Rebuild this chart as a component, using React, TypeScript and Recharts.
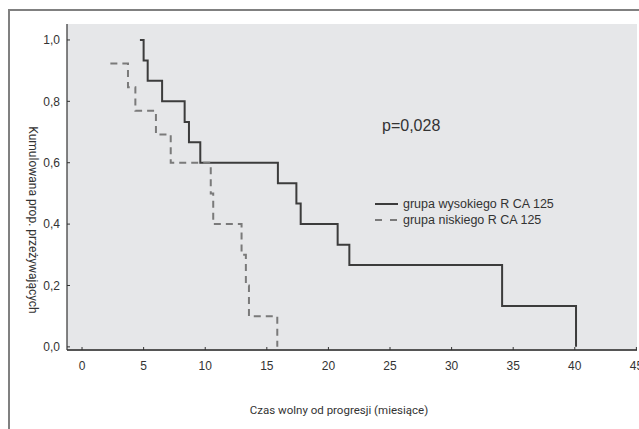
import React from 'react';
import { LineChart, Line, XAxis, YAxis, CartesianGrid, Legend } from 'recharts';

// Kaplan-Meier steps
const highTime = [4.7, 5.0, 5.33, 6.5, 8.33, 8.68, 9.6, 15.9, 17.4, 17.75, 20.75, 21.7, 34.1, 40.1];
const highSurv = [1.0, 0.933, 0.867, 0.8, 0.733, 0.667, 0.6, 0.533, 0.467, 0.4, 0.333, 0.267, 0.133, 0.0];

const lowTime = [2.3, 3.73, 4.33, 6.0, 7.2, 10.45, 10.65, 12.95, 13.3, 13.55, 15.85];
const lowSurv = [0.923, 0.846, 0.769, 0.692, 0.6, 0.5, 0.4, 0.3, 0.2, 0.1, 0.0];

const xTicks = [0, 5, 10, 15, 20, 25, 30, 35, 40, 45];
const yTicks = [0, 0.2, 0.4, 0.6, 0.8, 1.0];
const rightTicks = [0, 1, 2, 3, 4, 5, 6];

const seriesNames = ['grupa wysokiego R CA 125', 'grupa niskiego R CA 125'];

const highData = highTime.map((t, i) => ({ t, s: highSurv[i] }));
const lowData = lowTime.map((t, i) => ({ t, s: lowSurv[i] }));

const tickFont = { fontFamily: '"Liberation Sans", Arial, sans-serif', fontSize: 12, fill: '#333' };

const LegendBox = () => (
    <div style={{ fontFamily: '"Liberation Sans", Arial, sans-serif', fontSize: 12.5, color: '#333', lineHeight: '16px' }}>
        {seriesNames.map((name, i) => (
            <div key={name} style={{ display: 'flex', alignItems: 'center', whiteSpace: 'nowrap' }}>
                <svg width={28} height={16}>
                    <line
                        x1={0}
                        x2={23}
                        y1={8}
                        y2={8}
                        stroke={i === 0 ? '#3c3c3c' : '#7a7a7a'}
                        strokeWidth={2}
                        strokeDasharray={i === 0 ? undefined : '7 8'}
                    />
                </svg>
                <span>{name}</span>
            </div>
        ))}
    </div>
);

const App = () => {
    return (
        <div style={{ position: 'absolute', left: 0, top: 0, width: 639, height: 429, background: '#fff', overflow: 'hidden' }}>
            {/* outer frame */}
            <div style={{ position: 'absolute', left: 8, top: 9, width: 700, height: 500, borderLeft: '2px solid #808080', borderTop: '2px solid #808080' }} />

            <div style={{ position: 'absolute', left: 0, top: 0 }}>
                <LineChart width={639} height={429} margin={{ top: 24, right: 2, left: 0, bottom: 0 }}>
                    <CartesianGrid fill="#e6e7e9" horizontal={false} vertical={false} />
                    <XAxis
                        xAxisId="bottom"
                        type="number"
                        dataKey="t"
                        domain={[-1.22, 45.05]}
                        ticks={xTicks}
                        interval={0}
                        height={47}
                        tickSize={-3}
                        tickMargin={14}
                        tick={tickFont}
                        axisLine={{ stroke: '#555', strokeWidth: 2 }}
                        tickLine={{ stroke: '#333' }}
                        allowDataOverflow
                    />
                    <XAxis
                        xAxisId="top"
                        orientation="top"
                        type="number"
                        domain={[-1.22, 45.05]}
                        ticks={xTicks}
                        interval={0}
                        height={0}
                        tickSize={-3}
                        tick={false}
                        axisLine={{ stroke: '#333', strokeWidth: 1.2 }}
                        tickLine={{ stroke: '#333' }}
                        allowDataOverflow
                    />
                    <YAxis
                        yAxisId="left"
                        type="number"
                        domain={[-0.0102, 1.052]}
                        ticks={yTicks}
                        interval={0}
                        width={67}
                        tickSize={-3}
                        tickMargin={10}
                        tick={tickFont}
                        tickFormatter={(v: number) => v.toFixed(1).replace('.', ',')}
                        axisLine={{ stroke: '#333', strokeWidth: 1.2 }}
                        tickLine={{ stroke: '#333' }}
                        allowDataOverflow
                    />
                    <YAxis
                        yAxisId="right"
                        orientation="right"
                        type="number"
                        domain={[0, 6.28]}
                        ticks={rightTicks}
                        interval={0}
                        width={0}
                        tickSize={-3}
                        tick={false}
                        axisLine={{ stroke: '#333', strokeWidth: 1.2 }}
                        tickLine={{ stroke: '#333' }}
                        allowDataOverflow
                    />
                    <Legend
                        content={() => <LegendBox />}
                        wrapperStyle={{ position: 'absolute', left: 375, top: 196, width: 'auto' }}
                    />
                    <Line
                        xAxisId="bottom"
                        yAxisId="left"
                        data={highData}
                        dataKey="s"
                        type="stepAfter"
                        stroke="#3c3c3c"
                        strokeWidth={2}
                        dot={false}
                        isAnimationActive={false}
                    />
                    <Line
                        xAxisId="bottom"
                        yAxisId="left"
                        data={lowData}
                        dataKey="s"
                        type="stepAfter"
                        stroke="#7a7a7a"
                        strokeWidth={2}
                        strokeDasharray="7 5"
                        dot={false}
                        isAnimationActive={false}
                    />
                </LineChart>
            </div>

            {/* p-value */}
            <div style={{ position: 'absolute', left: 382, top: 117, fontFamily: '"Liberation Sans", Arial, sans-serif', fontSize: 16, color: '#333', whiteSpace: 'nowrap' }}>
                p=0,028
            </div>

            {/* axis titles */}
            <div style={{ position: 'absolute', left: 339, top: 410, transform: 'translate(-50%, -50%)', fontFamily: 'Roboto, sans-serif', fontSize: 11.5, color: '#333', whiteSpace: 'nowrap' }}>
                Czas wolny od progresji (miesiące)
            </div>
            <div style={{ position: 'absolute', left: 33, top: 220, transform: 'translate(-50%, -50%) rotate(90deg)', fontFamily: 'Roboto, sans-serif', fontSize: 12, color: '#333', whiteSpace: 'nowrap' }}>
                Kumulowana prop. przeżywających
            </div>
        </div>
    );
};

export default App;
